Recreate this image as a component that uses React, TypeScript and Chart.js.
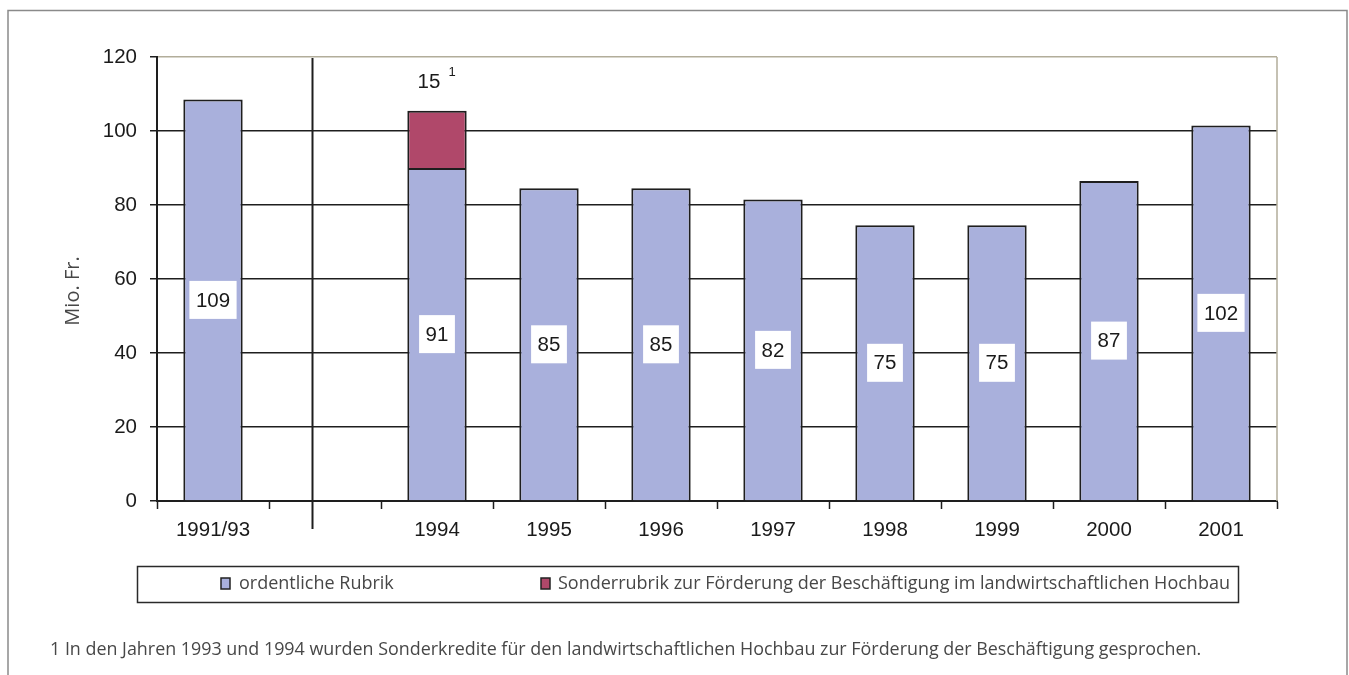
import React, { useEffect, useRef } from "react";
import { Chart, registerables } from "chart.js";

Chart.register(...registerables);

const categories = ["1991/93", "", "1994", "1995", "1996", "1997", "1998", "1999", "2000", "2001"];
const ordentlich = [108.5, null, 90, 84.5, 84.5, 81.5, 74.5, 74.5, 86.5, 101.5];
const sonder = [null, null, 15.5, null, null, null, null, null, null, null];
const ordentlichLabels = ["109", "", "91", "85", "85", "82", "75", "75", "87", "102"];
const sonderLabels = ["", "", "15", "", "", "", "", "", "", ""];
const legendLabels = [
  "ordentliche Rubrik",
  "Sonderrubrik zur Förderung der Beschäftigung im landwirtschaftlichen Hochbau",
];
const yTitle = "Mio. Fr.";
const footnote =
  "1 In den Jahren 1993 und 1994 wurden Sonderkredite für den landwirtschaftlichen Hochbau zur Förderung der Beschäftigung gesprochen.";

const BLUE = "#a9b0dc";
const RED = "#b0486a";
const DARK = "#1e1e1e";
const GRAY_TEXT = "#474747";
const SANS = "'Open Sans', 'Noto Sans', sans-serif";
const ARIAL = "'Liberation Sans', Arial, sans-serif";

const decorPlugin = {
  id: "decor",
  afterDatasetsDraw(chart: any) {
    const ctx = chart.ctx;
    const meta0 = chart.getDatasetMeta(0);
    ctx.save();
    ctx.font = `20.5px ${ARIAL}`;
    ctx.textAlign = "center";
    ctx.textBaseline = "middle";
    meta0.data.forEach((el: any, i: number) => {
      const lab = ordentlichLabels[i];
      if (!lab || ordentlich[i] == null) return;
      const cy = (el.y + el.base) / 2;
      const w = ctx.measureText(lab).width + 13;
      const h = 38;
      ctx.fillStyle = "#ffffff";
      ctx.fillRect(el.x - w / 2, cy - h / 2, w, h);
      ctx.fillStyle = "#1a1a1a";
      ctx.fillText(lab, el.x, cy + 1);
    });
    const meta1 = chart.getDatasetMeta(1);
    meta1.data.forEach((el: any, i: number) => {
      const lab = sonderLabels[i];
      if (!lab || sonder[i] == null) return;
      ctx.font = `20.5px ${ARIAL}`;
      ctx.fillStyle = "#1a1a1a";
      ctx.textAlign = "center";
      ctx.fillText(lab, el.x - 8, el.y - 28);
      const w = ctx.measureText(lab).width;
      ctx.font = `13px ${ARIAL}`;
      ctx.textAlign = "left";
      ctx.fillText("1", el.x - 8 + w / 2 + 8, el.y - 38);
    });
    ctx.restore();
  },
  afterDraw(chart: any) {
    const ctx = chart.ctx;
    const area = chart.chartArea;
    const xs = chart.scales.x;
    ctx.save();
    ctx.strokeStyle = "#b2ad9a";
    ctx.lineWidth = 1.5;
    ctx.beginPath();
    ctx.moveTo(area.right, area.top);
    ctx.lineTo(area.right, area.bottom);
    ctx.stroke();
    const dx = Math.round(xs.getPixelForValue(0.885)) + 0.5;
    ctx.strokeStyle = DARK;
    ctx.lineWidth = 2;
    ctx.beginPath();
    ctx.moveTo(dx, area.top + 1);
    ctx.lineTo(dx, 529);
    ctx.stroke();
    ctx.fillStyle = GRAY_TEXT;
    ctx.font = `20px ${SANS}`;
    ctx.textAlign = "center";
    ctx.textBaseline = "middle";
    ctx.translate(73, 291);
    ctx.rotate(-Math.PI / 2);
    ctx.fillText(yTitle, 0, 0);
    ctx.setTransform(1, 0, 0, 1, 0, 0);
    ctx.strokeStyle = "#2a2a2a";
    ctx.lineWidth = 1.5;
    ctx.strokeRect(137.5, 566.5, 1101, 36);
    ctx.font = `18px ${SANS}`;
    ctx.textAlign = "left";
    ctx.textBaseline = "middle";
    const items = [
      { x: 221, color: BLUE, tx: 239 },
      { x: 541, color: RED, tx: 558 },
    ];
    items.forEach((it, k) => {
      ctx.fillStyle = it.color;
      ctx.fillRect(it.x, 578, 9, 11);
      ctx.strokeStyle = "#222";
      ctx.lineWidth = 1.5;
      ctx.strokeRect(it.x, 578, 9, 11);
      ctx.fillStyle = GRAY_TEXT;
      ctx.fillText(legendLabels[k], it.tx, 584);
    });
    ctx.fillStyle = GRAY_TEXT;
    ctx.font = `17.9px ${SANS}`;
    ctx.fillText(footnote, 50, 650);
    ctx.strokeStyle = "#8a8a8a";
    ctx.lineWidth = 1.5;
    ctx.beginPath();
    ctx.moveTo(8, 675);
    ctx.lineTo(8, 10.5);
    ctx.lineTo(1347, 10.5);
    ctx.lineTo(1347, 675);
    ctx.stroke();
    ctx.restore();
  },
};

export default function App() {
  const ref = useRef<HTMLCanvasElement | null>(null);
  useEffect(() => {
    if (!ref.current) return;
    const chart = new Chart(ref.current, {
      type: "bar",
      data: {
        labels: categories,
        datasets: [
          {
            label: legendLabels[0],
            data: ordentlich,
            backgroundColor: BLUE,
            borderColor: DARK,
            borderWidth: 2,
            barPercentage: 0.53,
            categoryPercentage: 1,
          },
          {
            label: legendLabels[1],
            data: sonder,
            backgroundColor: RED,
            borderColor: DARK,
            borderWidth: 2,
            barPercentage: 0.53,
            categoryPercentage: 1,
          },
        ],
      },
      options: {
        responsive: false,
        animation: false,
        layout: { padding: { left: 0, top: 57, right: 72, bottom: 0 } },
        plugins: {
          legend: { display: false },
          tooltip: { enabled: false },
          title: { display: false },
        },
        scales: {
          x: {
            stacked: true,
            offset: true,
            grid: {
              offset: true,
              drawOnChartArea: false,
              drawTicks: true,
              tickLength: 8,
              tickColor: DARK,
              tickWidth: 1.5,
            },
            border: { display: true, color: DARK, width: 2 },
            ticks: {
              color: "#1a1a1a",
              font: { family: ARIAL, size: 20.5 },
              padding: 9,
              autoSkip: false,
              maxRotation: 0,
            },
            afterFit(scale: any) {
              scale.height = 675 - 501;
            },
          },
          y: {
            stacked: true,
            min: 0,
            max: 120,
            ticks: {
              stepSize: 20,
              color: "#1a1a1a",
              font: { family: ARIAL, size: 20.5 },
              padding: 13,
            },
            grid: {
              color: (c: any) => (c.tick && c.tick.value === 120 ? "#b2ad9a" : DARK),
              lineWidth: 1.5,
              tickLength: 7,
              tickColor: DARK,
              tickWidth: 1.5,
            },
            border: { display: true, color: DARK, width: 2 },
            afterFit(scale: any) {
              scale.width = 157;
            },
          },
        },
      },
      plugins: [decorPlugin],
    });
    return () => chart.destroy();
  }, []);
  return (
    <div style={{ position: "absolute", left: 0, top: 0, width: 1349, height: 675, background: "#fff" }}>
      <canvas ref={ref} width={1349} height={675} style={{ display: "block" }} />
    </div>
  );
}
